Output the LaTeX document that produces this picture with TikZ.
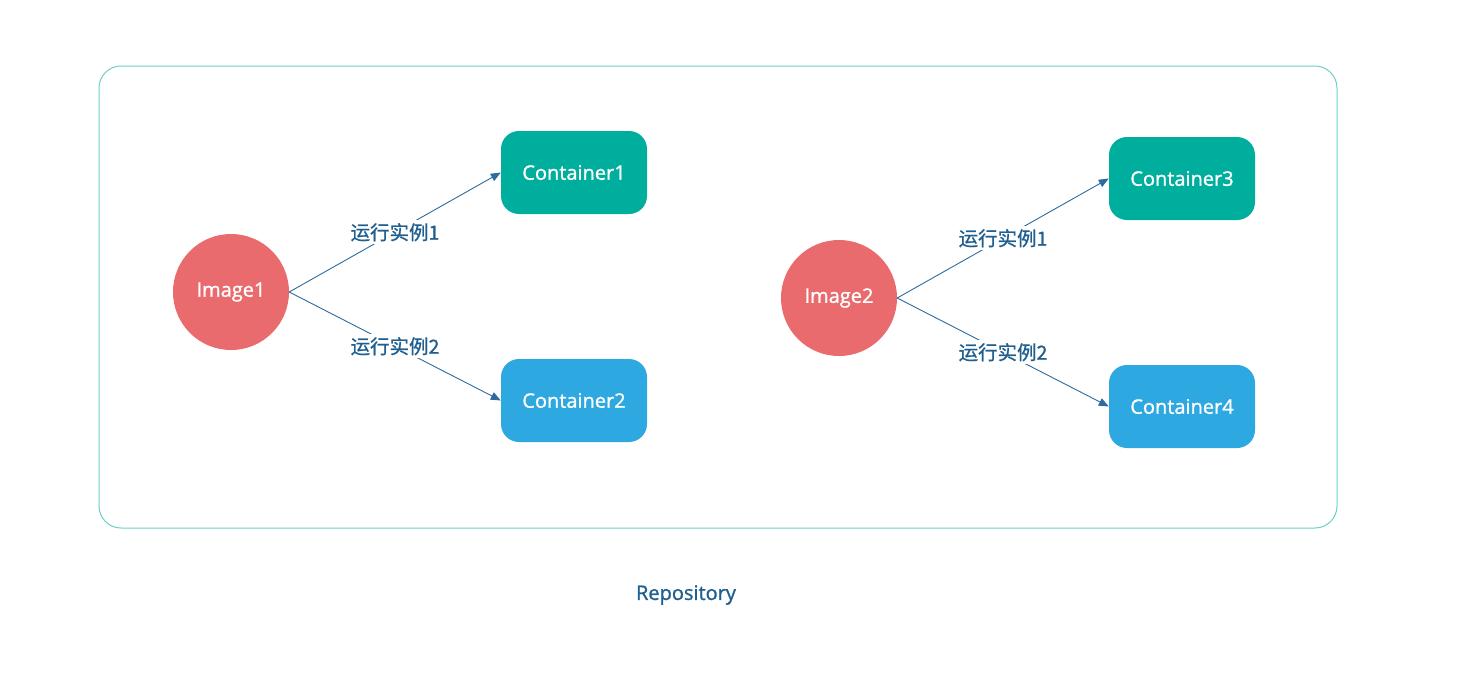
\documentclass[tikz,border=0pt]{standalone}
\usepackage{fontspec}
\setmainfont{Open Sans}
\newfontfamily\medfont{Open Sans}[FakeBold=1.2]
\newfontfamily\cjk{Noto Sans CJK SC}[FakeBold=0.8]
\usetikzlibrary{arrows.meta}
\definecolor{imgred}{HTML}{EA6B6E}
\definecolor{teal1}{HTML}{00AE9D}
\definecolor{blue1}{HTML}{2EA8E1}
\definecolor{lbl}{HTML}{1F5F8F}
\definecolor{edge}{HTML}{2C6B9E}
\definecolor{frame}{HTML}{6CD0C4}
\tikzset{
  x=1pt, y=-1pt,
  txt/.style={font=\medfont\fontsize{20}{24}\selectfont},
  imgnode/.style={circle, fill=imgred, minimum size=116pt, inner sep=0pt, text=white, txt},
  cont/.style={rounded corners=18pt, minimum width=146pt, minimum height=83pt, inner sep=0pt, text=white, txt},
  contA/.style={cont, fill=teal1},
  contB/.style={cont, fill=blue1},
  arr/.style={draw=edge, line width=0.9pt, -{Triangle[length=10pt,width=8pt]}},
  lab/.style={fill=white, text=lbl, inner sep=3pt, font=\cjk\fontsize{19.5}{22}\selectfont},
}
\begin{document}
\begin{tikzpicture}
\useasboundingbox (0,0) rectangle (1460,678);
\node[draw=frame, line width=1pt, rounded corners=22pt, minimum width=1238pt, minimum height=462pt, inner sep=0pt] (repo) at (718,297) {};
\node[text=lbl, txt] (repolab) at (686,595) {Repository};

\node[imgnode] (i1) at (231,292) {Image1};
\node[contA] (c1) at (574,172.5) {Container1};
\node[contB] (c2) at (574,400.5) {Container2};

\node[imgnode] (i2) at (839,298) {Image2};
\node[contA] (c3) at (1182,178.5) {Container3};
\node[contB] (c4) at (1182,406.5) {Container4};

\draw[arr] (i1.east) -- node[lab] {运行实例1} (c1.west);
\draw[arr] (i1.east) -- node[lab] {运行实例2} (c2.west);
\draw[arr] (i2.east) -- node[lab] {运行实例1} (c3.west);
\draw[arr] (i2.east) -- node[lab] {运行实例2} (c4.west);
\end{tikzpicture}
\end{document}
